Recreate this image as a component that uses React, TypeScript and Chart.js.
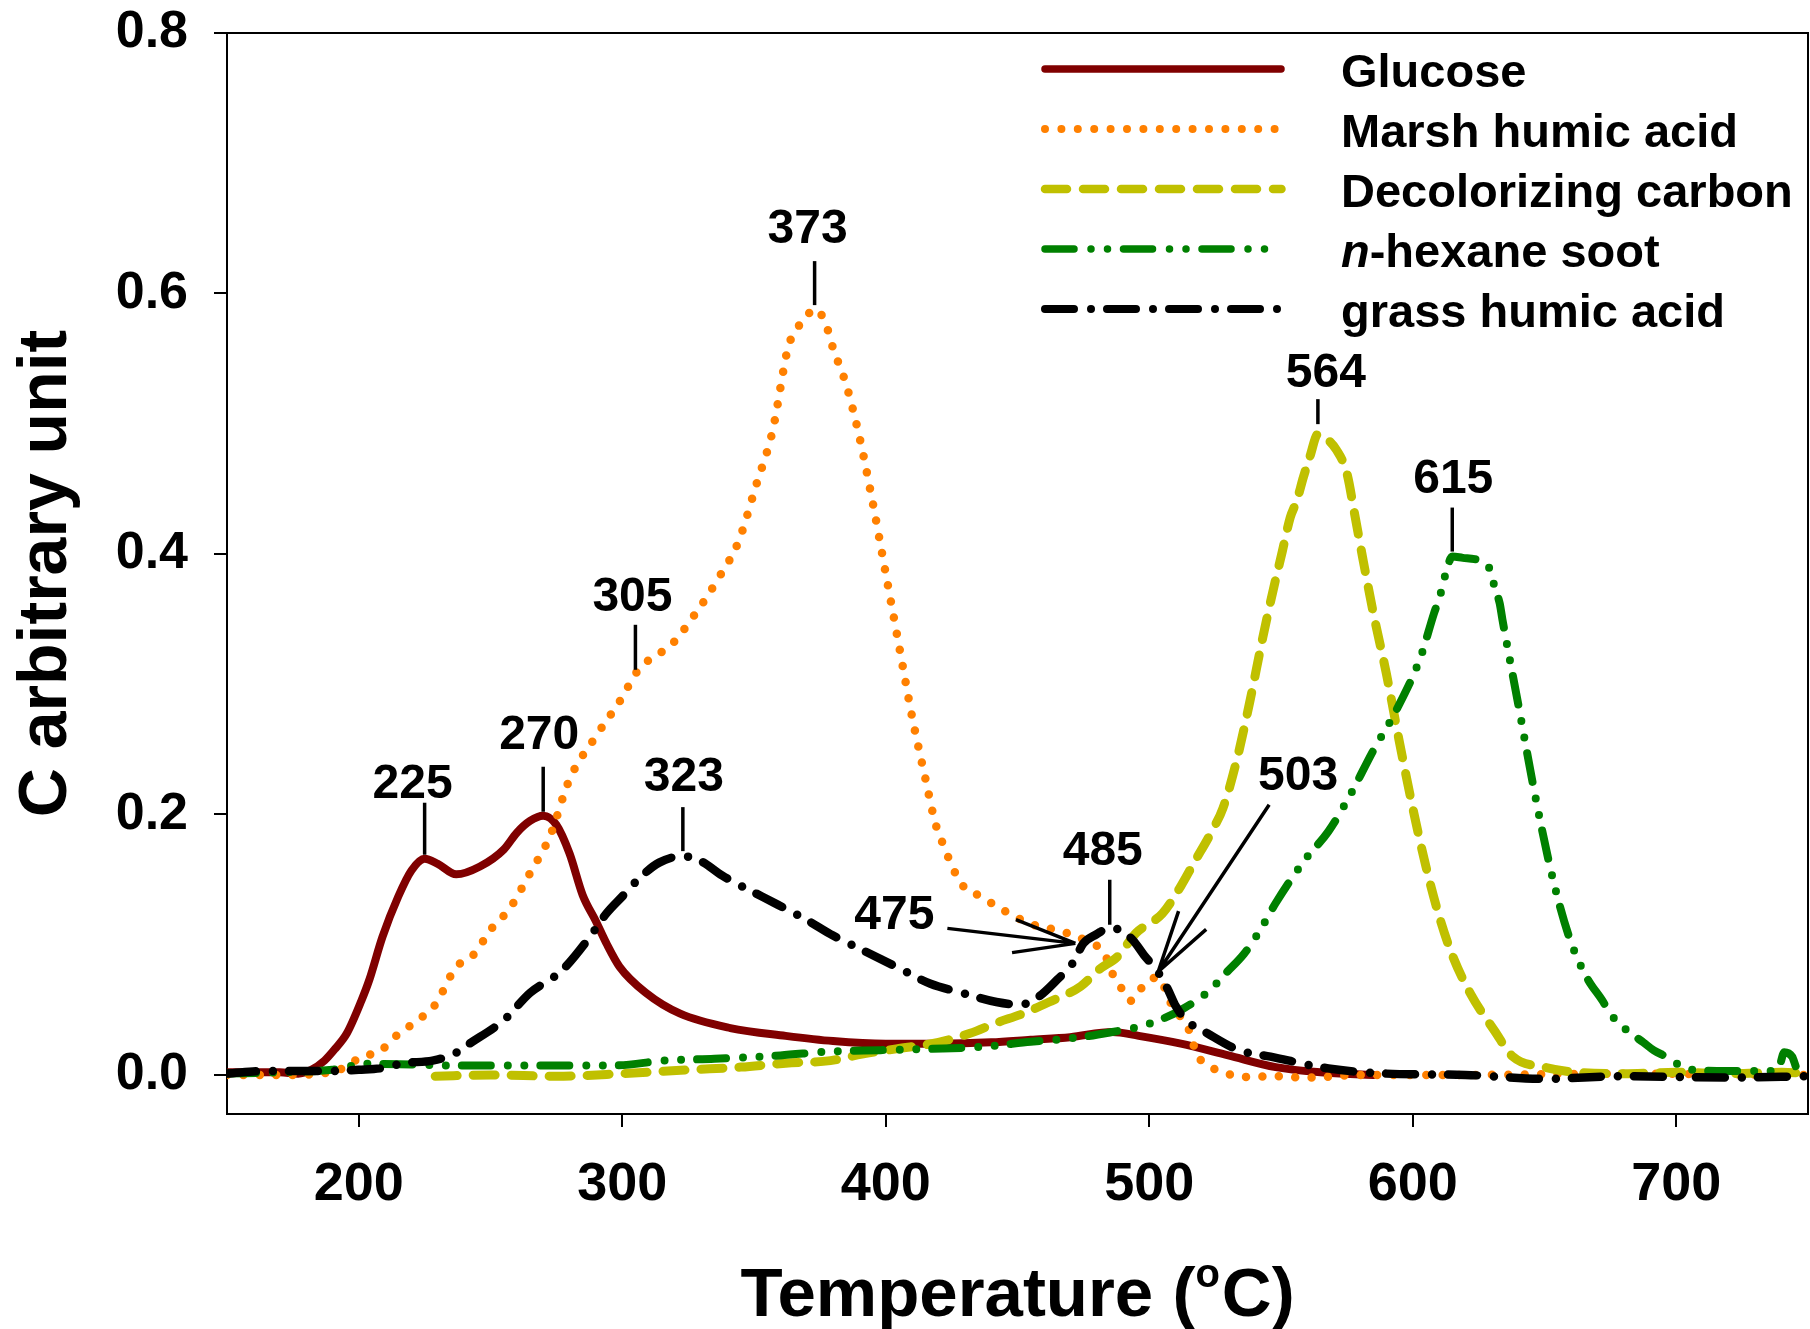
import React, { useEffect, useRef } from "react";
import { Chart, registerables } from "chart.js";

Chart.register(...registerables);

type Pair = [number, number];

const W = 1810;
const H = 1329;
const FAMILY = '"Liberation Sans", Arial, Helvetica, sans-serif';

// Carbon signal (arbitrary unit) against temperature (°C) for each sample
const glucose: Pair[] = [
  [150, 0.002], [160, 0.002], [170, 0.002], [177, 0.001], [182, 0.004], [187, 0.011],
  [191, 0.02], [195.5, 0.032], [201, 0.057], [204, 0.073], [209, 0.106], [215, 0.137],
  [220, 0.157], [225, 0.166], [230, 0.162], [237, 0.154], [246, 0.16], [255, 0.173],
  [260, 0.186], [265, 0.195], [270, 0.199], [275, 0.192], [280, 0.17], [285, 0.138],
  [290, 0.118], [294, 0.101], [299, 0.083], [309, 0.063], [322, 0.047], [341, 0.036],
  [362, 0.03], [380, 0.026], [400, 0.024], [420, 0.024], [440, 0.025], [455, 0.027],
  [470, 0.029], [486, 0.033], [496, 0.03], [512, 0.024], [530, 0.015], [548, 0.006],
  [565, 0.002], [585, 0.0],
];

const marshHumicAcid: Pair[] = [
  [150, 0.0], [170, 0.0], [185, 0.001], [195, 0.006], [201, 0.014], [208, 0.018],
  [213, 0.028], [221, 0.04], [229, 0.054], [237, 0.083], [243, 0.091], [251, 0.114],
  [257, 0.127], [265, 0.155], [272.5, 0.183], [280, 0.227], [290, 0.26], [300, 0.29],
  [305, 0.308], [311, 0.32], [318, 0.329], [327, 0.352], [337, 0.383], [344, 0.409],
  [351, 0.454], [357, 0.494], [363, 0.559], [366, 0.572], [369, 0.58], [373, 0.588],
  [377, 0.578], [380, 0.558], [385, 0.53], [390, 0.49], [395, 0.44], [400, 0.385],
  [405, 0.33], [410, 0.275], [415, 0.228], [419, 0.192], [422, 0.176], [425, 0.161],
  [429, 0.146], [436, 0.137], [445, 0.126], [455, 0.116], [467, 0.11], [476, 0.103],
  [483, 0.093], [486, 0.078], [490, 0.065], [493, 0.057], [498, 0.069], [503, 0.075],
  [509, 0.052], [515, 0.035], [518, 0.016], [521, 0.009], [526, 0.0035], [537, -0.0015],
  [547, -0.001], [560, -0.002], [580, 0.0], [620, 0.0], [680, 0.001], [750, 0.0],
];

const decolorizingCarbon: Pair[] = [
  [229, -0.001], [250, 0.0], [275, -0.001], [300, 0.001], [326, 0.004], [345, 0.006],
  [362, 0.009], [379, 0.011], [391, 0.016], [404, 0.02], [420, 0.025], [432, 0.032],
  [442, 0.04], [452, 0.047], [462, 0.056], [474, 0.068], [481, 0.081], [488, 0.091],
  [495, 0.109], [505, 0.124], [512, 0.145], [517, 0.163], [524, 0.188], [528, 0.205],
  [533, 0.24], [538, 0.285], [543, 0.335], [547, 0.372], [550.5, 0.402], [553.5, 0.428],
  [556, 0.441], [558.5, 0.459], [561, 0.475], [564, 0.492], [567, 0.489], [571, 0.48],
  [575, 0.462], [578, 0.43], [581, 0.397], [585, 0.355], [590, 0.308], [595, 0.255],
  [600, 0.205], [605, 0.16], [610, 0.122], [615, 0.092], [622, 0.062], [631, 0.034],
  [638, 0.014], [650, 0.006], [662, 0.002], [680, 0.001], [700, 0.002], [720, 0.001],
  [740, 0.002], [750, 0.001],
];

const hexaneSoot: Pair[] = [
  [150, 0.001], [170, 0.002], [190, 0.004], [203, 0.0086], [220, 0.008], [235, 0.0073],
  [265, 0.0073], [297, 0.0073], [316, 0.011], [335, 0.0124], [360, 0.015], [379, 0.018],
  [398, 0.019], [417, 0.02], [436, 0.0215], [455, 0.0254], [474, 0.029], [486, 0.033],
  [496, 0.037], [505, 0.043], [513, 0.051], [523, 0.065], [529, 0.078], [536, 0.093],
  [542, 0.111], [548, 0.132], [559, 0.165], [568, 0.187], [576, 0.214], [585, 0.249],
  [594, 0.281], [603, 0.321], [608, 0.354], [610.5, 0.369], [612.5, 0.385], [615, 0.398],
  [619, 0.397], [623.5, 0.396], [627, 0.394], [629.5, 0.387], [631, 0.375], [633, 0.362],
  [634, 0.35], [640, 0.285], [646.5, 0.214], [653, 0.152], [659.5, 0.105], [666, 0.075],
  [672, 0.057], [675, 0.047], [678.5, 0.039], [683, 0.0316], [687.5, 0.025], [691.5, 0.0188],
  [696.5, 0.0137], [703, 0.0055], [709, 0.0035], [720, 0.003], [735, 0.003], [739, 0.006],
  [741, 0.0175], [744, 0.014], [746, 0.004], [750, 0.002],
];

const grassHumicAcid: Pair[] = [
  [150, 0.001], [165, 0.003], [180, 0.003], [190, 0.003], [200, 0.004], [208, 0.005],
  [217, 0.009], [228, 0.011], [236, 0.016], [242, 0.024], [255, 0.042], [265, 0.063],
  [277, 0.08], [287, 0.104], [294, 0.124], [300, 0.137], [307, 0.152], [314, 0.163],
  [323, 0.168], [330, 0.164], [338, 0.153], [353, 0.137], [370, 0.119], [380, 0.107],
  [391, 0.096], [404, 0.083], [417, 0.07], [429, 0.063], [442, 0.056], [451, 0.054],
  [458, 0.06], [465, 0.073], [471, 0.086], [475, 0.101], [480, 0.108], [485, 0.113],
  [490, 0.11], [494, 0.103], [498, 0.092], [503, 0.08], [507, 0.066], [510, 0.053],
  [514, 0.042], [522, 0.032], [534, 0.019], [546, 0.014], [568, 0.005], [590, 0.001],
  [620, 0.0], [650, -0.003], [680, -0.001], [720, -0.002], [750, -0.001],
];

const xTickValues = [200, 300, 400, 500, 600, 700];
const yTickValues = [0, 0.2, 0.4, 0.6, 0.8];

// Peak temperatures called out above the curves
const peakMarks = [
  { text: "225", series: "glucose", t: 225 },
  { text: "270", series: "glucose", t: 270 },
  { text: "305", series: "marsh", t: 305 },
  { text: "373", series: "marsh", t: 373 },
  { text: "323", series: "grass", t: 323 },
  { text: "485", series: "grass", t: 485 },
  { text: "564", series: "carbon", t: 564 },
  { text: "615", series: "soot", t: 615 },
];

// Features pointed at with arrows
const arrowMarks = [
  { text: "475", series: "grass", t: 475 },
  { text: "503", series: "grass", t: 503 },
];

type SeriesDef = {
  key: string;
  label: string;
  italicPrefix?: string;
  data: Pair[];
  color: string;
  width: number;
  dash: number[];
  legendEnd: number;
};

const series: SeriesDef[] = [
  { key: "glucose", label: "Glucose", data: glucose, color: "#800000", width: 8, dash: [], legendEnd: 1281 },
  { key: "marsh", label: "Marsh humic acid", data: marshHumicAcid, color: "#FF8000", width: 8.5, dash: [0, 16.4], legendEnd: 1281 },
  { key: "carbon", label: "Decolorizing carbon", data: decolorizingCarbon, color: "#C0C000", width: 9, dash: [22, 16], legendEnd: 1281.5 },
  { key: "soot", label: "-hexane soot", italicPrefix: "n", data: hexaneSoot, color: "#008000", width: 8, dash: [29, 17, 0, 16.5, 0, 16], legendEnd: 1271 },
  { key: "grass", label: "grass humic acid", data: grassHumicAcid, color: "#000000", width: 8.5, dash: [29, 17, 0, 16], legendEnd: 1279 },
];

// Callout geometry in pixels: stem gap above the curve, stem length, label lift above stem, label shift
const peakLayout: Record<string, { gap: number; len: number; lift: number; dx: number }> = {
  "225": { gap: 4, len: 52, lift: 22, dx: -12 },
  "270": { gap: 4, len: 45, lift: 35, dx: -4 },
  "305": { gap: 4, len: 45, lift: 31, dx: -3 },
  "373": { gap: 4, len: 44, lift: 35, dx: -7 },
  "323": { gap: 5, len: 44, lift: 33, dx: 1 },
  "485": { gap: 3, len: 45, lift: 32, dx: -7 },
  "564": { gap: 10, len: 25, lift: 29, dx: 8 },
  "615": { gap: 5, len: 44, lift: 32, dx: 1 },
};

const arrowLayout: Record<string, { tipDx: number; tipDy: number; tailDx: number; tailDy: number; labelDx: number; labelDy: number }> = {
  "475": { tipDx: -8, tipDy: 0, tailDx: -128, tailDy: -15, labelDx: -53, labelDy: -17 },
  "503": { tipDx: 1, tipDy: 1, tailDx: 111, tailDy: -167, labelDx: 29, labelDy: -32 },
};

function valueAt(data: Pair[], t: number): number {
  for (let i = 0; i < data.length - 1; i++) {
    const [x0, y0] = data[i];
    const [x1, y1] = data[i + 1];
    if (t >= x0 && t <= x1) {
      return x1 === x0 ? y0 : y0 + ((y1 - y0) * (t - x0)) / (x1 - x0);
    }
  }
  return data[data.length - 1][1];
}

function seriesData(key: string): Pair[] {
  const s = series.find((d) => d.key === key);
  return s ? s.data : [];
}

// Draw text so that the middle of its capitals sits at cy
function capText(ctx: CanvasRenderingContext2D, text: string, x: number, cy: number, size: number, align: CanvasTextAlign = "center") {
  ctx.font = `bold ${size}px ${FAMILY}`;
  ctx.textAlign = align;
  ctx.textBaseline = "alphabetic";
  ctx.fillText(text, x, cy + 0.358 * size);
}

const framePlugin = {
  id: "frame",
  afterDraw(chart: any) {
    const { ctx, chartArea } = chart;
    ctx.save();
    ctx.strokeStyle = "#000";
    ctx.lineWidth = 2;
    ctx.beginPath();
    ctx.moveTo(chartArea.left, chartArea.top);
    ctx.lineTo(chartArea.right, chartArea.top);
    ctx.lineTo(chartArea.right, chartArea.bottom);
    ctx.stroke();
    ctx.restore();
  },
};

const LABEL_SIZE = 48;

const calloutPlugin = {
  id: "callouts",
  afterDatasetsDraw(chart: any) {
    const { ctx } = chart;
    const xs = chart.scales.x;
    const ys = chart.scales.y;
    ctx.save();
    ctx.fillStyle = "#000";
    ctx.strokeStyle = "#000";
    ctx.lineWidth = 3.5;
    ctx.lineCap = "butt";

    peakMarks.forEach((m) => {
      const lay = peakLayout[m.text];
      const px = xs.getPixelForValue(m.t);
      const py = ys.getPixelForValue(valueAt(seriesData(m.series), m.t));
      const bottom = py - lay.gap;
      const top = bottom - lay.len;
      ctx.beginPath();
      ctx.moveTo(px, bottom);
      ctx.lineTo(px, top);
      ctx.stroke();
      capText(ctx, m.text, px + lay.dx, top - lay.lift, LABEL_SIZE);
    });

    arrowMarks.forEach((m) => {
      const lay = arrowLayout[m.text];
      const tipX = xs.getPixelForValue(m.t) + lay.tipDx;
      const tipY = ys.getPixelForValue(valueAt(seriesData(m.series), m.t)) + lay.tipDy;
      const tailX = tipX + lay.tailDx;
      const tailY = tipY + lay.tailDy;
      ctx.beginPath();
      ctx.moveTo(tailX, tailY);
      ctx.lineTo(tipX, tipY);
      const ang = Math.atan2(tailY - tipY, tailX - tipX);
      const arm = 64;
      const spread = (15 * Math.PI) / 180;
      [ang - spread, ang + spread].forEach((a) => {
        ctx.moveTo(tipX, tipY);
        ctx.lineTo(tipX + arm * Math.cos(a), tipY + arm * Math.sin(a));
      });
      ctx.stroke();
      capText(ctx, m.text, tailX + lay.labelDx, tailY + lay.labelDy, LABEL_SIZE);
    });
    ctx.restore();
  },
};

const legendPlugin = {
  id: "sampleLegend",
  afterDraw(chart: any) {
    const { ctx } = chart;
    const x1 = 1045;
    const textX = 1341;
    const size = 47;
    ctx.save();
    series.forEach((s, i) => {
      const y = 69 + i * 60;
      ctx.strokeStyle = s.color;
      ctx.lineWidth = s.width - 0.5;
      ctx.lineCap = "round";
      ctx.setLineDash(s.dash);
      ctx.beginPath();
      ctx.moveTo(x1, y);
      ctx.lineTo(s.legendEnd, y);
      ctx.stroke();
      ctx.setLineDash([]);
      ctx.fillStyle = "#000";
      let tx = textX;
      if (s.italicPrefix) {
        ctx.font = `italic bold ${size}px ${FAMILY}`;
        ctx.textAlign = "left";
        ctx.textBaseline = "alphabetic";
        ctx.fillText(s.italicPrefix, tx, y + 1 + 0.358 * size);
        tx += ctx.measureText(s.italicPrefix).width;
      }
      capText(ctx, s.label, tx, y + 1, size, "left");
    });
    ctx.restore();
  },
};

const titlePlugin = {
  id: "axisTitles",
  afterDraw(chart: any) {
    const { ctx, chartArea } = chart;
    ctx.save();
    ctx.fillStyle = "#000";
    ctx.textBaseline = "alphabetic";
    ctx.textAlign = "left";

    // x title with a raised degree "o"
    const big = `bold 69px ${FAMILY}`;
    const small = `bold 40px ${FAMILY}`;
    const a = "Temperature (";
    const c = "C)";
    ctx.font = big;
    const wa = ctx.measureText(a).width;
    const wc = ctx.measureText(c).width;
    ctx.font = small;
    const wo = ctx.measureText("o").width + 2;
    const cx = (chartArea.left + chartArea.right) / 2;
    const baseline = 1316;
    let x = cx - (wa + wo + wc) / 2;
    ctx.font = big;
    ctx.fillText(a, x, baseline);
    x += wa;
    ctx.font = small;
    ctx.fillText("o", x, baseline - 29);
    x += wo;
    ctx.font = big;
    ctx.fillText(c, x, baseline);

    // y title, rotated
    ctx.translate(66, (chartArea.top + chartArea.bottom) / 2);
    ctx.rotate(-Math.PI / 2);
    ctx.font = `bold 68px ${FAMILY}`;
    ctx.textAlign = "center";
    ctx.fillText("C arbitrary unit", 0, 0);
    ctx.restore();
  },
};

export default function App() {
  const ref = useRef<HTMLCanvasElement>(null);

  useEffect(() => {
    const canvas = ref.current;
    if (!canvas) return;
    const n = series.length;
    const chart = new Chart(canvas, {
      type: "line",
      data: {
        datasets: series.map((s, i) => ({
          label: s.label,
          data: s.data.map(([x, y]) => ({ x, y })),
          borderColor: s.color,
          backgroundColor: s.color,
          borderWidth: s.width,
          borderDash: s.dash,
          borderCapStyle: "round",
          borderJoinStyle: "round",
          pointRadius: 0,
          fill: false,
          cubicInterpolationMode: "monotone",
          order: n - 1 - i,
        })),
      },
      options: {
        responsive: false,
        devicePixelRatio: 1,
        animation: false,
        events: [],
        layout: { padding: { top: 33, right: 2, left: 0, bottom: 0 } },
        plugins: {
          legend: { display: false },
          tooltip: { enabled: false },
          title: { display: false },
        },
        scales: {
          x: {
            type: "linear",
            min: 150,
            max: 750,
            afterBuildTicks: (scale: any) => {
              scale.ticks = xTickValues.map((v) => ({ value: v }));
            },
            afterFit: (scale: any) => {
              scale.height = H - 1114;
              scale.paddingLeft = 0;
              scale.paddingRight = 0;
            },
            ticks: {
              color: "#000",
              padding: 26,
              maxRotation: 0,
              autoSkip: false,
              font: { family: FAMILY, size: 54, weight: "bold" },
              callback: (v: any) => String(v),
            },
            grid: { display: true, drawOnChartArea: false, drawTicks: true, tickLength: 13, color: "#000", lineWidth: 2 },
            border: { display: true, color: "#000", width: 2 },
          },
          y: {
            type: "linear",
            min: -0.03,
            max: 0.8,
            afterBuildTicks: (scale: any) => {
              scale.ticks = yTickValues.map((v) => ({ value: v }));
            },
            afterFit: (scale: any) => {
              scale.width = 227;
              scale.paddingTop = 0;
              scale.paddingBottom = 0;
            },
            ticks: {
              color: "#000",
              padding: 26,
              autoSkip: false,
              font: { family: FAMILY, size: 52, weight: "bold" },
              callback: (v: any) => Number(v).toFixed(1),
            },
            grid: { display: true, drawOnChartArea: false, drawTicks: true, tickLength: 13, color: "#000", lineWidth: 2 },
            border: { display: true, color: "#000", width: 2 },
          },
        },
      } as any,
      plugins: [framePlugin, calloutPlugin, legendPlugin, titlePlugin],
    });
    return () => chart.destroy();
  }, []);

  return (
    <div style={{ position: "fixed", left: 0, top: 0, width: W, height: H, background: "#fff" }}>
      <canvas ref={ref} width={W} height={H} style={{ display: "block", width: W, height: H }} />
    </div>
  );
}
